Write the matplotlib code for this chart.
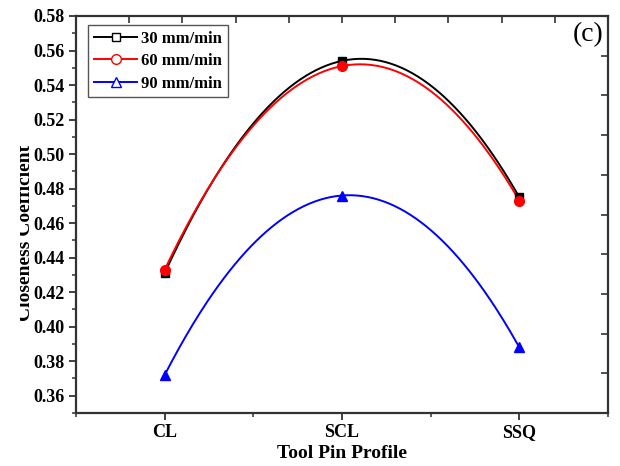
import matplotlib
matplotlib.use("Agg")

import matplotlib.pyplot as plt
import numpy as np
from matplotlib.lines import Line2D
from matplotlib.transforms import Bbox, TransformedBbox

plt.rcParams["font.family"] = ["Liberation Serif", "DejaVu Serif"]
plt.rcParams["font.weight"] = "bold"

PROFILES = ["CL", "SCL", "SSQ"]
SPEEDS = ["30 mm/min", "60 mm/min", "90 mm/min"]
CC_30 = [0.431, 0.554, 0.475]
CC_60 = [0.433, 0.551, 0.473]
CC_90 = [0.372, 0.476, 0.388]

COLORS = ["black", "#ff0000", "#0000ff"]
MARKERS = ["s", "o", "^"]
MSIZES = [6, 7, 7]

fig = plt.figure(figsize=(6.2, 4.66), dpi=100)
ax = fig.add_axes([76 / 620, 53 / 466, 532 / 620, 397 / 466])

x = np.arange(1, len(PROFILES) + 1)
xs = np.linspace(x[0], x[-1], 200)
handles = []
for vals, name, c, m, ms in zip([CC_30, CC_60, CC_90], SPEEDS, COLORS, MARKERS, MSIZES):
    # smooth curve through the three points
    coef = np.polyfit(x, vals, 2)
    ax.plot(xs, np.polyval(coef, xs), color=c, lw=1.4, zorder=2)
    ax.plot(x, vals, ls="none", marker=m, ms=ms, color=c, zorder=3)
    handles.append(Line2D([], [], color=c, lw=1.4, marker=m, ms=ms,
                          markerfacecolor="white", markeredgecolor=c,
                          markeredgewidth=1.0, label=name))

ax.set_xlim(0.5, 3.5)
ax.set_ylim(0.35, 0.58)
ax.set_xticks(x)
ax.set_xticklabels(PROFILES)
ax.set_xticks([0.5, 1.5, 2.5, 3.5], minor=True)
ax.set_yticks(np.arange(0.36, 0.581, 0.02))
ax.set_yticks(np.arange(0.35, 0.581, 0.01), minor=True)
ax.yaxis.set_major_formatter(matplotlib.ticker.FormatStrFormatter("%.2f"))

spine_col = "#333333"
for sp in ax.spines.values():
    sp.set_linewidth(1.6)
    sp.set_color(spine_col)
ax.tick_params(which="major", direction="out", length=5, width=1.3,
               color=spine_col, labelsize=13, pad=3)
ax.tick_params(which="minor", direction="out", length=3, width=1.1, color=spine_col)

# unlabeled ticks on the top and right edges
top = ax.secondary_xaxis("top")
top.set_xticks(np.linspace(0.5, 3.5, 11)[1:-1])
top.set_xticklabels([])
top.tick_params(direction="in", length=5, width=1.2, color=spine_col)
top.spines["top"].set_visible(False)
right = ax.secondary_yaxis("right")
right.set_yticks(np.linspace(0.35, 0.58, 11)[1:-1])
right.set_yticklabels([])
right.tick_params(direction="in", length=5, width=1.2, color=spine_col)
right.spines["right"].set_visible(False)

ax.set_xlabel("Tool Pin Profile", fontsize=14, fontweight="bold", labelpad=3)
ylab = fig.text(26 / 620, 0.5, "Closeness Coefficient", rotation=90,
                ha="center", va="center", fontsize=14, fontweight="bold")
ylab.set_clip_box(TransformedBbox(Bbox([[20 / 620, 0], [1, 1]]), fig.transFigure))
ylab.set_clip_on(True)

ax.text(588 / 620, 1 - 22 / 466, "(c)", transform=fig.transFigure, ha="center",
        va="top", fontsize=20, fontweight="normal")

leg = ax.legend(handles=handles, loc="upper left",
                bbox_to_anchor=(88 / 620, 1 - 25 / 466),
                bbox_transform=fig.transFigure,
                fontsize=12, handlelength=2.6, handletextpad=0.25,
                borderpad=0.35, labelspacing=0.38, borderaxespad=0,
                fancybox=False, framealpha=1, edgecolor="#555555")
leg.get_frame().set_linewidth(1.0)

fig.savefig("out.png", dpi=100)
